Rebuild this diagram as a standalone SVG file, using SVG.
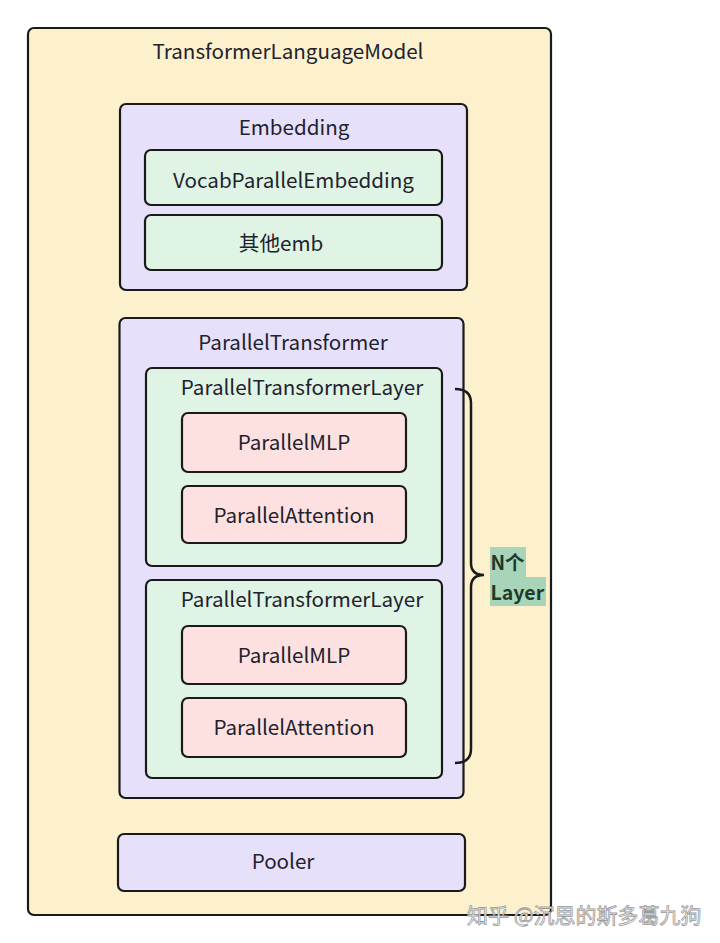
<svg xmlns="http://www.w3.org/2000/svg" width="720" height="943" viewBox="0 0 720 943">
<style>
.box{stroke:#1a1a1a;stroke-width:2.2}
.yel{fill:#fdf1cd}
.pur{fill:#e7e0fb}
.grn{fill:#dff4e5}
.pnk{fill:#fde1e1}
.t{font-family:"Noto Sans CJK SC","Noto Sans",sans-serif;font-size:20.6px;fill:#22222e;text-anchor:middle}
.lbl{font-family:"Noto Sans CJK SC","Noto Sans",sans-serif;font-size:19.5px;font-weight:bold;fill:#1f3a2a}
.wm{font-family:"Noto Sans CJK SC",sans-serif;font-size:21px;fill:#ffffff;stroke:#9a9a9a;stroke-width:0.8}
</style>
<rect width="720" height="943" fill="#ffffff"/>
<g id="TransformerLanguageModel">
<rect class="box yel" x="28" y="28" width="523" height="887" rx="6"/>
<text class="t" x="288" y="59">TransformerLanguageModel</text>
</g>
<g id="Embedding">
<rect class="box pur" x="120" y="104" width="347" height="186" rx="6"/>
<text class="t" x="294" y="135">Embedding</text>
</g>
<g id="VocabParallelEmbedding">
<rect class="box grn" x="145" y="150" width="297" height="55" rx="6"/>
<text class="t" x="293.5" y="188">VocabParallelEmbedding</text>
</g>
<g id="OtherEmb">
<rect class="box grn" x="145" y="215" width="297" height="55" rx="6"/>
<text class="t" x="281" y="251">其他emb</text>
</g>
<g id="ParallelTransformer">
<rect class="box pur" x="119.5" y="318" width="344" height="480" rx="6"/>
<text class="t" x="293" y="350">ParallelTransformer</text>
</g>
<g id="ParallelTransformerLayer1">
<rect class="box grn" x="146" y="368" width="296" height="198" rx="6"/>
<text class="t" x="302" y="395">ParallelTransformerLayer</text>
</g>
<g id="ParallelMLP1">
<rect class="box pnk" x="182" y="413" width="224" height="59" rx="6"/>
<text class="t" x="294" y="450">ParallelMLP</text>
</g>
<g id="ParallelAttention1">
<rect class="box pnk" x="182" y="486" width="224" height="57" rx="6"/>
<text class="t" x="294" y="523">ParallelAttention</text>
</g>
<g id="ParallelTransformerLayer2">
<rect class="box grn" x="146" y="580" width="296" height="198" rx="6"/>
<text class="t" x="302" y="607">ParallelTransformerLayer</text>
</g>
<g id="ParallelMLP2">
<rect class="box pnk" x="182" y="626" width="224" height="58" rx="6"/>
<text class="t" x="294" y="663">ParallelMLP</text>
</g>
<g id="ParallelAttention2">
<rect class="box pnk" x="182" y="698" width="224" height="59" rx="6"/>
<text class="t" x="294" y="735">ParallelAttention</text>
</g>
<g id="Pooler">
<rect class="box pur" x="118" y="834" width="347" height="57" rx="6"/>
<text class="t" x="283" y="869">Pooler</text>
</g>
<g id="connectors">
<path d="M455,389 Q471,389 471,403 L471,563 Q471,575 484,575 Q471,575 471,587 L471,749 Q471,763 455,763" fill="none" stroke="#1a1a1a" stroke-width="2.5"/>
</g>
<g id="NLayerLabel">
<rect x="490" y="547" width="36" height="31" fill="#a8d5b9"/>
<rect x="490" y="577" width="56" height="29" fill="#a8d5b9"/>
<text class="lbl" x="490.5" y="570">N个</text>
<text class="lbl" x="490.5" y="600">Layer</text>
</g>
<text class="wm" x="467" y="923">知乎 @沉思的斯多葛九狗</text>
</svg>
